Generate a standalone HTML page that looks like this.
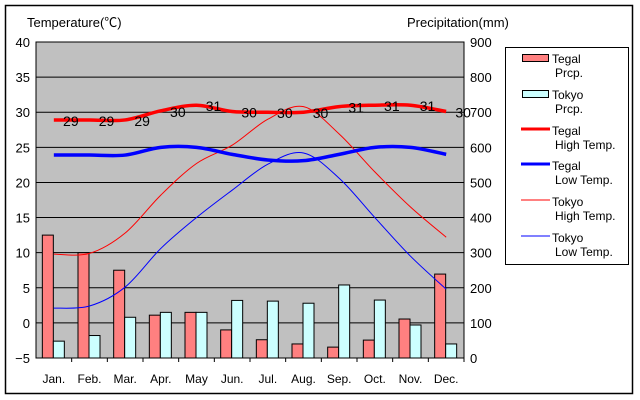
<!DOCTYPE html>
<html><head><meta charset="utf-8"><style>
body{margin:0;background:#fff;}
svg{display:block;font-family:"Liberation Sans","Noto Sans CJK JP",sans-serif;}
</style></head><body>
<svg id="chart" width="640" height="400" viewBox="0 0 640 400">
<rect x="5.5" y="5.5" width="627" height="388" fill="#fff" stroke="#000" stroke-width="1.5"/>
<rect x="36" y="42" width="428" height="316" fill="#c0c0c0" stroke="#000" stroke-width="1"/>
<g id="grid"></g>
<g id="bars"></g>
<g id="lines"></g>
<g id="labels"></g>
<g id="axes"></g>
<text x="27" y="27" font-size="13">Temperature(℃)</text>
<text x="407" y="27" font-size="13">Precipitation(mm)</text>
<g>
<rect x="505.5" y="47.5" width="123" height="217" fill="#fff" stroke="#000"/>
<rect x="522.5" y="54.5" width="26" height="7" fill="#ff8080" stroke="#000"/>
<text x="552" y="63" font-size="12">Tegal</text><text x="555" y="77" font-size="12">Prcp.</text>
<rect x="522.5" y="90.5" width="26" height="7" fill="#ccffff" stroke="#000"/>
<text x="552" y="99" font-size="12">Tokyo</text><text x="555" y="113" font-size="12">Prcp.</text>
<line x1="521" y1="129" x2="550" y2="129" stroke="#f00" stroke-width="3"/>
<text x="552" y="135" font-size="12">Tegal</text><text x="555" y="149" font-size="12">High Temp.</text>
<line x1="521" y1="164" x2="550" y2="164" stroke="#00f" stroke-width="3"/>
<text x="552" y="170" font-size="12">Tegal</text><text x="555" y="184" font-size="12">Low Temp.</text>
<line x1="521" y1="200" x2="550" y2="200" stroke="#f00" stroke-width="1"/>
<text x="552" y="206" font-size="12">Tokyo</text><text x="555" y="220" font-size="12">High Temp.</text>
<line x1="521" y1="236" x2="550" y2="236" stroke="#00f" stroke-width="1"/>
<text x="552" y="242" font-size="12">Tokyo</text><text x="555" y="256" font-size="12">Low Temp.</text>
</g>
</svg>
<script>
const months = ["Jan.","Feb.","Mar.","Apr.","May","Jun.","Jul.","Aug.","Sep.","Oct.","Nov.","Dec."];
const tegalPrcp = [350,300,250,122,130,80,52,40,31,51,111,239];
const tokyoPrcp = [48,64,116,130,130,164,162,156,208,165,94,40];
const tegalHigh = [28.9,28.9,28.9,30.2,31,30.1,30,30,30.8,31,31,30.1];
const tegalLow = [23.9,23.9,23.9,25,25,24,23.2,23.1,24,25,25,24];
const tokyoHigh = [9.8,9.9,12.8,18.2,22.7,25.3,29.0,30.8,26.9,21.5,16.5,12.2];
const tokyoLow = [2.1,2.4,5.1,10.6,15.0,18.9,22.6,24.2,20.6,15.0,9.5,4.8];
const tempTicks = [40,35,30,25,20,15,10,5,0,-5];
const prcpTicks = [900,800,700,600,500,400,300,200,100,0];

const NS="http://www.w3.org/2000/svg";
const L=36,R=464,T=42,B=358,step=(R-L)/12;
const xC=i=>L+step*(i+0.5);
const yT=v=>T+(40-v)*(B-T)/45;
const yP=v=>B-v*(B-T)/900;
function mk(tag,attrs,parent,text){const e=document.createElementNS(NS,tag);for(const k in attrs)e.setAttribute(k,attrs[k]);if(text!==undefined)e.textContent=text;document.getElementById(parent).appendChild(e);return e;}

tempTicks.forEach((t,i)=>{
  const y=yT(t);
  if(t<40&&t>-5){const g=mk("line",{x1:L,y1:y,x2:R,y2:y,stroke:"#000","stroke-width":1},"grid");
  
  }
  const lt=mk("text",{x:30,y:y+5,"font-size":13,"text-anchor":"end"},"axes",(t<0?"−"+(-t):t));
  
  
});
prcpTicks.forEach(p=>{
  const rt=mk("text",{x:470,y:yP(p)+5,"font-size":13},"axes",p);
  
  
});
months.forEach((m,i)=>{
  const tk=mk("line",{x1:L+step*(i+1),y1:B,x2:L+step*(i+1),y2:B+4,stroke:"#000"},"axes");
  
  
  const ml=mk("text",{x:xC(i),y:383,"font-size":12,"text-anchor":"middle"},"axes",m);
  
  
  const b1=mk("rect",{x:xC(i)-11.5,y:yP(tegalPrcp[i]),width:11,height:B-yP(tegalPrcp[i]),fill:"#ff8080",stroke:"#000"},"bars");
  
  
  const b2=mk("rect",{x:xC(i)-0.5,y:yP(tokyoPrcp[i]),width:11,height:B-yP(tokyoPrcp[i]),fill:"#ccffff",stroke:"#000"},"bars");
  
  
});
function smooth(pts){let d="M"+pts[0][0]+","+pts[0][1];for(let i=0;i<pts.length-1;i++){const p0=pts[i-1]||pts[i],p1=pts[i],p2=pts[i+1],p3=pts[i+2]||p2;
 d+=` C${p1[0]+(p2[0]-p0[0])/6},${p1[1]+(p2[1]-p0[1])/6} ${p2[0]-(p3[0]-p1[0])/6},${p2[1]-(p3[1]-p1[1])/6} ${p2[0]},${p2[1]}`;}return d;}
function series(vals,color,w,name,sm){
  const pts=vals.map((v,i)=>[xC(i),yT(v)]);
  const d=sm?smooth(pts):"M"+pts.map(p=>p.join(",")).join(" L");
  const p=mk("path",{d:d,fill:"none",stroke:color,"stroke-width":w},"lines");
  
  
}
series(tokyoHigh,"#f00",1,"line-tokyo-high",true);
series(tokyoLow,"#00f",1,"line-tokyo-low",true);
series(tegalLow,"#00f",3.5,"line-tegal-low",true);
series(tegalHigh,"#f00",3.5,"line-tegal-high",true);
tegalHigh.forEach((v,i)=>{
  const t=mk("text",{x:xC(i)+17,y:yT(v)+6,"font-size":14,"text-anchor":"middle"},"labels",Math.round(v));
  
  
});
</script>
</body></html>
